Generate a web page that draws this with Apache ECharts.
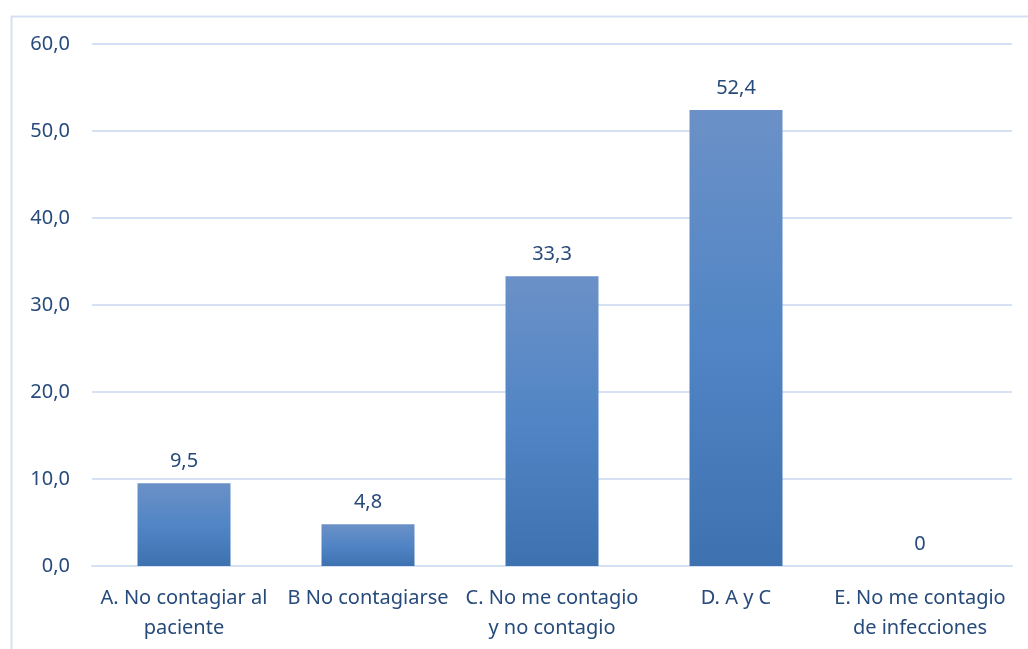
<!DOCTYPE html>
<html><head><meta charset="utf-8">
<script src="https://cdn.jsdelivr.net/npm/echarts@6/dist/echarts.min.js"></script>
<style>html,body{margin:0;padding:0;background:#fff}#c{width:1028px;height:649px}</style>
</head><body><div id="c"></div>
<script>
const categories = ['A. No contagiar al\npaciente', 'B No contagiarse', 'C. No me contagio\ny no contagio', 'D. A y C', 'E. No me contagio\nde infecciones'];
const values = [9.5, 4.8, 33.3, 52.4, 0];
const yMin = 0, yMax = 60, yStep = 10;

const textColor = '#264A7A';
const font = 'Noto Sans';
const chart = echarts.init(document.getElementById('c'), null, {renderer: 'canvas'});
chart.setOption({
  animation: false,
  backgroundColor: '#fff',
  graphic: [{
    type: 'rect', left: 9, top: 14, shape: {x: 0, y: 0, width: 1030, height: 650},
    style: {fill: 'none', stroke: '#D5E1F2', lineWidth: 2}, silent: true, z: -1
  }],
  grid: {left: 92, right: 16, top: 44, bottom: 83, containLabel: false},
  xAxis: {
    type: 'category', data: categories,
    axisLine: {show: true, lineStyle: {color: '#D5E1F2', width: 2}},
    axisTick: {show: false},
    axisLabel: {color: textColor, fontFamily: font, fontSize: 20, margin: 17, lineHeight: 30, interval: 0}
  },
  yAxis: {
    type: 'value', min: yMin, max: yMax, interval: yStep,
    axisLine: {show: false}, axisTick: {show: false},
    splitLine: {lineStyle: {color: '#D5E1F2', width: 2}},
    axisLabel: {color: textColor, fontFamily: font, fontSize: 20, margin: 22,
      formatter: v => v.toFixed(1).replace('.', ',')}
  },
  series: [{
    type: 'bar', data: values, barWidth: 93,
    itemStyle: {color: new echarts.graphic.LinearGradient(0, 0, 0, 1, [
      {offset: 0, color: '#6B91C7'}, {offset: 0.5, color: '#5185C5'}, {offset: 1, color: '#3E71B0'}])},
    label: {show: true, position: 'top', distance: 12, color: textColor, fontFamily: font, fontSize: 20,
      formatter: p => p.value === 0 ? '0' : p.value.toFixed(1).replace('.', ',')}
  }]
});
</script></body></html>
